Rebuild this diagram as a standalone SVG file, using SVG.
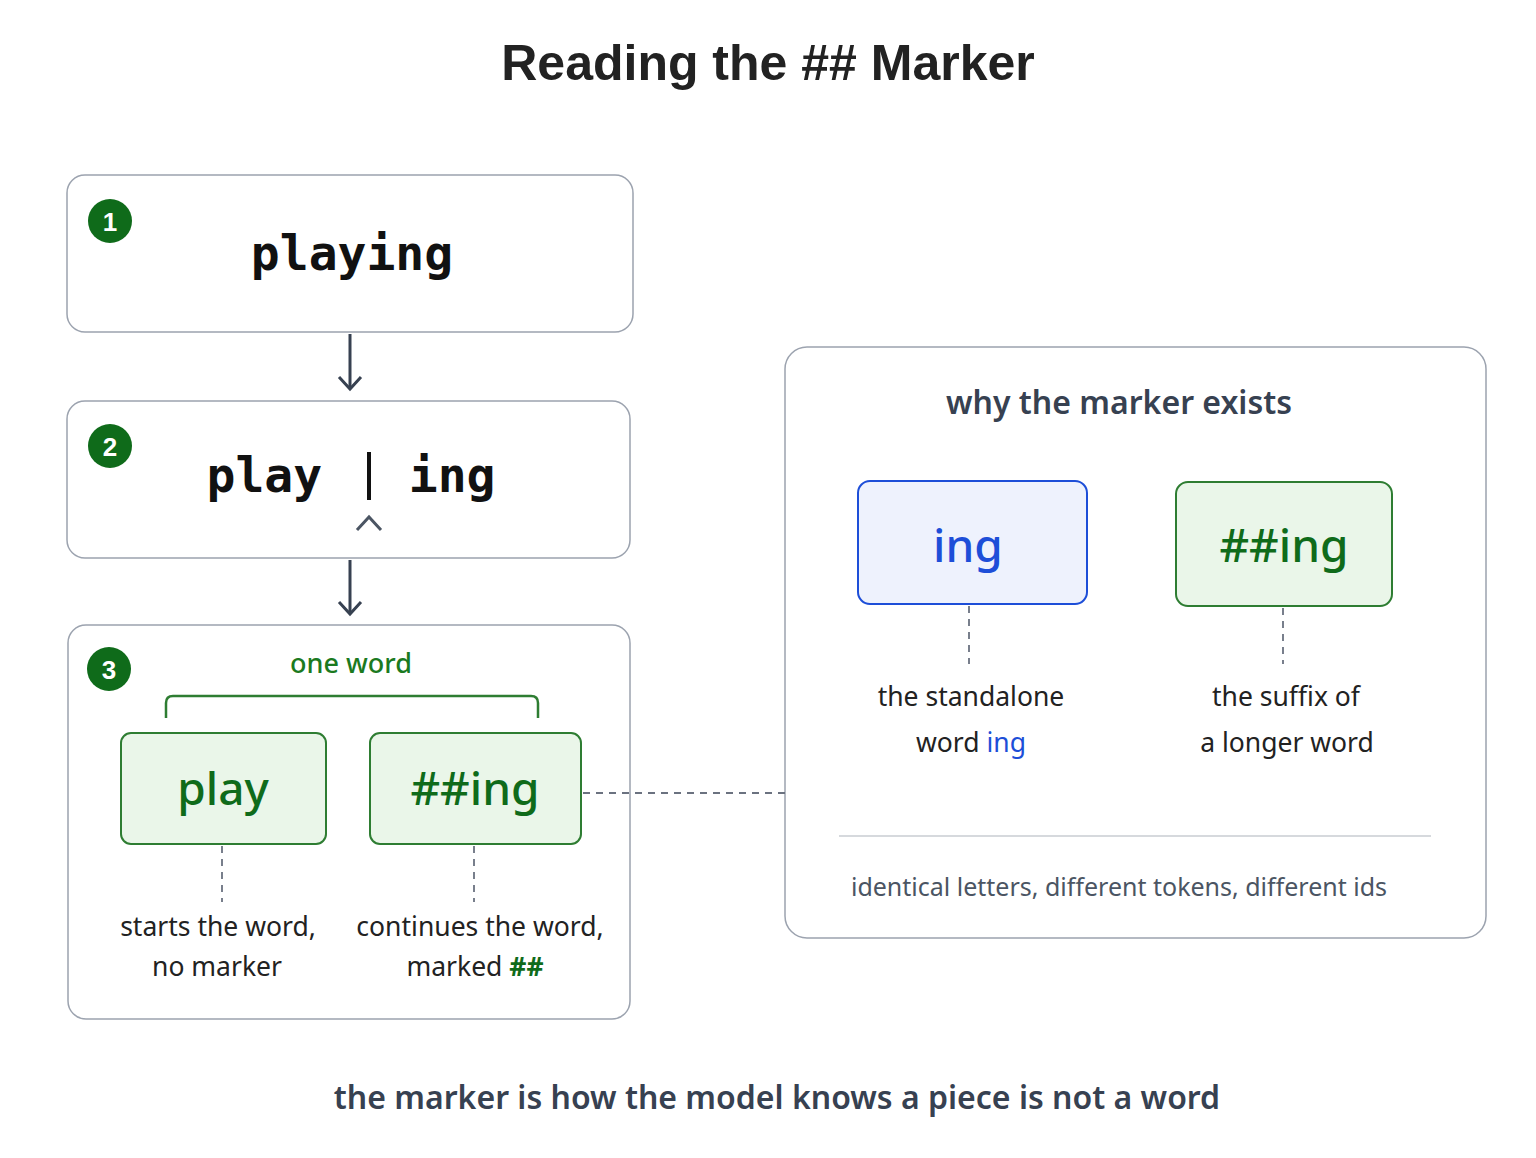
<svg xmlns="http://www.w3.org/2000/svg" width="1536" height="1158" viewBox="0 0 1536 1158">
<style>
.box{fill:#fff;stroke:#9ca3af;stroke-width:1.5}
.mono{font-family:"DejaVu Sans Mono",monospace;font-weight:bold;fill:#111}
.sans{font-family:"Noto Sans","Liberation Sans",sans-serif}
.lbl{font-family:"Noto Sans","Liberation Sans",sans-serif;font-size:26.5px;fill:#222;text-anchor:middle}
.badge{fill:#0f6b1a}
.btxt{font-family:"Liberation Sans",sans-serif;font-weight:bold;font-size:26px;fill:#fff;text-anchor:middle}
.gtok{fill:#eaf6e9;stroke:#2e7d32;stroke-width:2}
.gtxt{font-family:"Noto Sans","Liberation Sans",sans-serif;font-size:46px;fill:#0f6b1a;text-anchor:middle;font-weight:500}
.dash{stroke:#6b7280;stroke-width:1.8;stroke-dasharray:7 6;fill:none}
.arr{stroke:#374151;stroke-width:3;fill:none}
</style>
<rect width="1536" height="1158" fill="#fff"/>
<text x="768" y="80" text-anchor="middle" font-family="Liberation Sans,sans-serif" font-weight="bold" font-size="50" fill="#222">Reading the ## Marker</text>
<g id="step1">
<rect class="box" x="67" y="175" width="566" height="157" rx="18"/>
<circle class="badge" cx="110" cy="221" r="22"/><text class="btxt" x="110" y="231">1</text>
<text class="mono" x="352" y="270" font-size="48" text-anchor="middle">playing</text>
</g>
<g id="step2">
<rect class="box" x="67" y="401" width="563" height="157" rx="18"/>
<circle class="badge" cx="110" cy="446" r="22"/><text class="btxt" x="110" y="456">2</text>
<text class="mono" x="351" y="492" font-size="48" text-anchor="middle" xml:space="preserve">play   ing</text>
<line x1="369" y1="452" x2="369" y2="500" stroke="#111" stroke-width="4"/>
<path d="M357 530 L369 517 L381 530" stroke="#4b5563" stroke-width="3" fill="none"/>
</g>
<g id="step3">
<rect class="box" x="68" y="625" width="562" height="394" rx="18"/>
<circle class="badge" cx="109" cy="669" r="22"/><text class="btxt" x="109" y="679">3</text>
<text x="351" y="673" text-anchor="middle" class="sans" font-size="27" fill="#1b7a1f" font-weight="500">one word</text>
<path d="M166 718 V703 Q166 696 173 696 H531 Q538 696 538 703 V718" stroke="#2e7d32" stroke-width="2.5" fill="none"/>
<rect class="gtok" x="121" y="733" width="205" height="111" rx="10"/>
<text class="gtxt" x="223" y="805">play</text>
<rect class="gtok" x="370" y="733" width="211" height="111" rx="10"/>
<text class="gtxt" x="475" y="805">##ing</text>
<text class="lbl" x="218" y="936">starts the word,</text>
<text class="lbl" x="217" y="976">no marker</text>
<text class="lbl" x="480" y="936">continues the word,</text>
<text class="lbl" x="475" y="976">marked <tspan fill="#0f6b1a" font-weight="bold">##</tspan></text>
</g>
<g id="why">
<rect class="box" x="785" y="347" width="701" height="591" rx="22"/>
<text x="1119" y="414" text-anchor="middle" class="sans" font-size="32" font-weight="600" fill="#374151">why the marker exists</text>
<rect x="858" y="481" width="229" height="123" rx="12" fill="#eef2fd" stroke="#1d4ed8" stroke-width="2"/>
<text x="968" y="562" text-anchor="middle" class="sans" font-size="46" fill="#1d4ed8" font-weight="500">ing</text>
<rect class="gtok" x="1176" y="482" width="216" height="124" rx="12"/>
<text class="gtxt" x="1284" y="562">##ing</text>
<text class="lbl" x="971" y="706">the standalone</text>
<text class="lbl" x="971" y="752">word <tspan fill="#1d4ed8">ing</tspan></text>
<text class="lbl" x="1286" y="706">the suffix of</text>
<text class="lbl" x="1287" y="752">a longer word</text>
<line x1="839" y1="836" x2="1431" y2="836" stroke="#c8ccd2" stroke-width="1.5"/>
<text x="1119" y="896" text-anchor="middle" class="sans" font-size="25" fill="#4b5563">identical letters, different tokens, different ids</text>
</g>
<g id="connectors">
<line class="arr" x1="350" y1="334" x2="350" y2="388"/><path class="arr" d="M339 377 L350 389 L361 377"/>
<line class="arr" x1="350" y1="560" x2="350" y2="613"/><path class="arr" d="M339 602 L350 614 L361 602"/>
<line class="dash" x1="222" y1="846" x2="222" y2="902"/>
<line class="dash" x1="474" y1="846" x2="474" y2="902"/>
<line class="dash" x1="969" y1="606" x2="969" y2="664"/>
<line class="dash" x1="1283" y1="608" x2="1283" y2="664"/>
<line class="dash" x1="583" y1="793" x2="785" y2="793"/>
</g>
<text x="777" y="1109" text-anchor="middle" class="sans" font-size="32" font-weight="600" fill="#374151">the marker is how the model knows a piece is not a word</text>
</svg>
